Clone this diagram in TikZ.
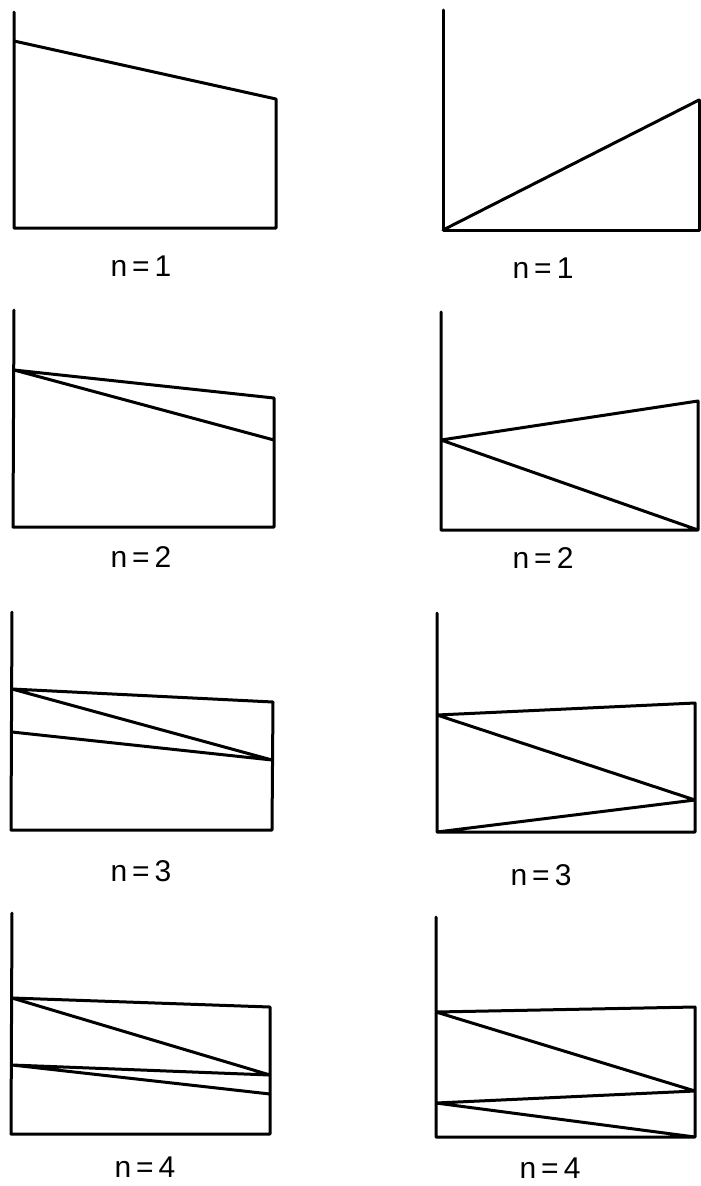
\documentclass[tikz,border=0pt]{standalone}
\usepackage{fontspec}
\setsansfont{Liberation Sans}
\begin{document}
\begin{tikzpicture}[x=1pt,y=-1pt,
  ln/.style={line width=3pt,line cap=round,line join=round,black},
  lab/.style={font=\sffamily\fontsize{30}{30}\selectfont,inner sep=0pt,anchor=center}]
\useasboundingbox (0,0) rectangle (701,1186);
% ---------- Panel A1 (left, n=1)
\coordinate (a1t) at (14,12);
\coordinate (a1l) at (14,41);
\coordinate (a1r) at (276,99);
\coordinate (a1br) at (276,228);
\coordinate (a1bl) at (14,228);
\draw[ln] (a1t) -- (a1bl) -- (a1br) -- (a1r) -- (a1l);
\node[lab] (la1) at (141,266) {n\,=\,1};
% ---------- Panel B1 (right, n=1)
\coordinate (b1t) at (443,10);
\coordinate (b1bl) at (443,230);
\coordinate (b1br) at (699,230);
\coordinate (b1r) at (699,100);
\draw[ln] (b1t) -- (b1bl) -- (b1br) -- (b1r);
\draw[ln] (b1bl) -- (b1r);
\node[lab] (lb1) at (543,268) {n\,=\,1};
% ---------- Panel A2 (left, n=2)
\coordinate (a2t) at (14,310);
\coordinate (a2l) at (14,370);
\coordinate (a2r1) at (274,398);
\coordinate (a2r2) at (274,440);
\coordinate (a2br) at (274,527);
\coordinate (a2bl) at (13,527);
\draw[ln] (a2t) -- (a2bl) -- (a2br) -- (a2r1) -- (a2l) -- (a2r2);
\node[lab] (la2) at (141,557) {n\,=\,2};
% ---------- Panel B2 (right, n=2)
\coordinate (b2t) at (441,312);
\coordinate (b2l) at (441,440);
\coordinate (b2r) at (698,401);
\coordinate (b2br) at (698,530);
\coordinate (b2bl) at (441,530);
\draw[ln] (b2t) -- (b2bl) -- (b2br) -- (b2r) -- (b2l) -- (b2br);
\node[lab] (lb2) at (543,558) {n\,=\,2};
% ---------- Panel A3 (left, n=3)
\coordinate (a3t) at (12,612);
\coordinate (a3l1) at (12,689);
\coordinate (a3l2) at (12,732);
\coordinate (a3r1) at (273,702);
\coordinate (a3r2) at (272,760);
\coordinate (a3br) at (272,830);
\coordinate (a3bl) at (11,830);
\draw[ln] (a3t) -- (a3bl) -- (a3br) -- (a3r1) -- (a3l1) -- (a3r2) -- (a3l2);
\node[lab] (la3) at (141,871) {n\,=\,3};
% ---------- Panel B3 (right, n=3)
\coordinate (b3t) at (437,613);
\coordinate (b3l) at (437,715);
\coordinate (b3r1) at (695,703);
\coordinate (b3r2) at (695,800);
\coordinate (b3br) at (695,832);
\coordinate (b3bl) at (437,832);
\draw[ln] (b3t) -- (b3bl) -- (b3br) -- (b3r1) -- (b3l) -- (b3r2) -- (b3bl);
\node[lab] (lb3) at (541,875) {n\,=\,3};
% ---------- Panel A4 (left, n=4)
\coordinate (a4t) at (12,913);
\coordinate (a4l1) at (12,998);
\coordinate (a4l2) at (12,1065);
\coordinate (a4r1) at (270,1007);
\coordinate (a4r2) at (270,1075);
\coordinate (a4r3) at (270,1094);
\coordinate (a4br) at (270,1134);
\coordinate (a4bl) at (11,1134);
\draw[ln] (a4t) -- (a4bl) -- (a4br) -- (a4r1) -- (a4l1) -- (a4r2) -- (a4l2) -- (a4r3);
\node[lab] (la4) at (145,1167) {n\,=\,4};
% ---------- Panel B4 (right, n=4)
\coordinate (b4t) at (436,917);
\coordinate (b4l1) at (436,1012);
\coordinate (b4l2) at (436,1103);
\coordinate (b4r1) at (695,1007);
\coordinate (b4r2) at (695,1091);
\coordinate (b4br) at (695,1137);
\coordinate (b4bl) at (436,1137);
\draw[ln] (b4t) -- (b4bl) -- (b4br) -- (b4r1) -- (b4l1) -- (b4r2) -- (b4l2) -- (b4br);
\node[lab] (lb4) at (550,1168) {n\,=\,4};
\end{tikzpicture}
\end{document}
